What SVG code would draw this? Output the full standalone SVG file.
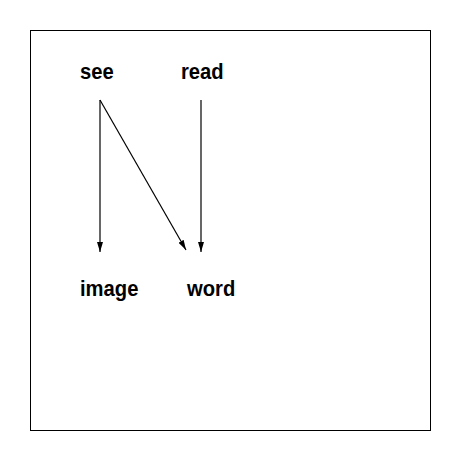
<svg xmlns="http://www.w3.org/2000/svg" width="460" height="460" viewBox="0 0 460 460">
<style>
.lbl{font-family:"Liberation Sans",Arial,sans-serif;font-weight:bold;font-size:22px;fill:#000}
.edge{stroke:#000;stroke-width:1.2;fill:none}
</style>
<defs>
<marker id="ah" viewBox="0 0 10 6" refX="10" refY="3" markerWidth="10" markerHeight="6" markerUnits="userSpaceOnUse" orient="auto">
<path d="M0,0 L10,3 L0,6 Z" fill="#000"/>
</marker>
</defs>
<rect x="0" y="0" width="460" height="460" fill="#fff"/>
<rect x="30.5" y="30.5" width="400" height="400" fill="none" stroke="#000" stroke-width="1"/>
<g id="connectors">
<line class="edge" x1="100" y1="100" x2="100" y2="252" marker-end="url(#ah)"/>
<line class="edge" x1="100" y1="100" x2="186" y2="250" marker-end="url(#ah)"/>
<line class="edge" x1="201" y1="100" x2="201" y2="252" marker-end="url(#ah)"/>
</g>
<g id="see"><text class="lbl" transform="translate(80,79) scale(0.92,1)">see</text></g>
<g id="read"><text class="lbl" transform="translate(181,79) scale(0.92,1)">read</text></g>
<g id="image"><text class="lbl" transform="translate(80,296) scale(0.92,1)">image</text></g>
<g id="word"><text class="lbl" transform="translate(187,296) scale(0.92,1)">word</text></g>
</svg>
